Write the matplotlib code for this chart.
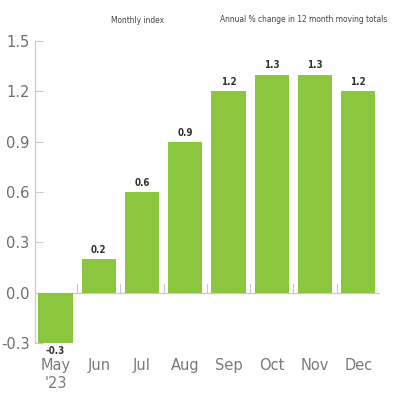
import matplotlib
matplotlib.use("Agg")
import matplotlib.pyplot as plt
import numpy as np

months = ["May\n'23", "Jun", "Jul", "Aug", "Sep", "Oct", "Nov", "Dec"]
values = [-0.3, 0.2, 0.6, 0.9, 1.2, 1.3, 1.3, 1.2]
value_labels = ["-0.3", "0.2", "0.6", "0.9", "1.2", "1.3", "1.3", "1.2"]
yticks = [-0.3, 0.0, 0.3, 0.6, 0.9, 1.2, 1.5]
ytick_labels = ["-0.3", "0.0", "0.3", "0.6", "0.9", "1.2", "1.5"]

fig = plt.figure(figsize=(4, 4), dpi=100)
ax = fig.add_axes([0.088, 0.1425, 0.862, 0.755])

green = "#8cc63f"
x = np.arange(len(values))
ax.bar(x, values, width=0.79, color=green, zorder=2)

ax.set_xlim(-0.47, 7.5)
ax.set_ylim(-0.3, 1.5)

for s in ["top", "right", "bottom"]:
    ax.spines[s].set_visible(False)
ax.spines["left"].set_color("#c8c8c8")
ax.spines["left"].set_linewidth(0.8)
ax.axhline(0, color="#c8c8c8", lw=0.9, zorder=1)

ax.set_yticks(yticks)
ax.set_yticklabels(ytick_labels)
ax.tick_params(axis="y", direction="in", length=6, width=0.8, color="#c8c8c8",
               labelsize=10.5, labelcolor="#6e6e6e", pad=4)
ax.set_xticks(x)
ax.set_xticklabels(months)
ax.tick_params(axis="x", length=0, labelsize=10.5, labelcolor="#7a7a7a", pad=11)

# separator ticks on zero line
for b in x[:-1] + 0.5:
    ax.plot([b, b], [0, 0.05], color="#c8c8c8", lw=0.8, zorder=1)

lab_kw = dict(fontsize=7, fontweight="bold", color="#333333",
              family="DejaVu Sans", fontstretch="condensed", ha="center")
for xi, v, lab in zip(x, values, value_labels):
    if v >= 0:
        ax.annotate(lab, (xi, v), xytext=(0, 3), textcoords="offset points",
                    va="bottom", **lab_kw)
    else:
        ax.annotate(lab, (xi, v), xytext=(0, -2), textcoords="offset points",
                    va="top", **lab_kw)

title_kw = dict(fontsize=6, color="#444444", family="DejaVu Sans",
                fontstretch="condensed", va="center", ha="center")
fig.text(0.343, 0.948, "Monthly index", **title_kw)
fig.text(0.758, 0.952, "Annual % change in 12 month moving totals", **title_kw)

fig.savefig("out.png", dpi=100, facecolor="white")
